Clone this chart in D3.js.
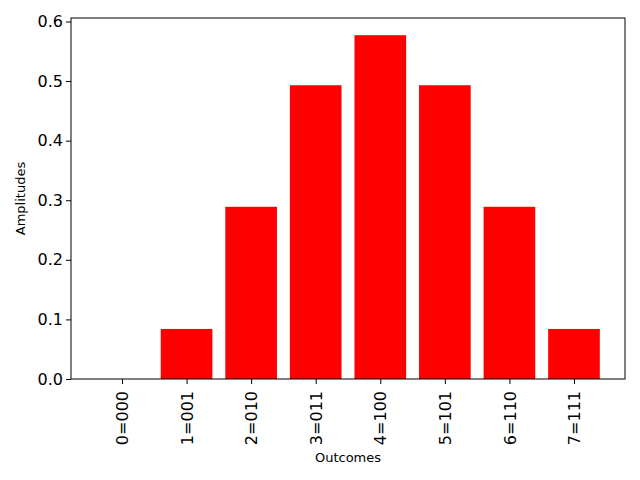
<!DOCTYPE html>
<html>
<head>
<meta charset="utf-8">
<script src="https://cdn.jsdelivr.net/npm/d3@7"></script>
<style>
  body { margin: 0; background: #fff; }
  text { font-family: "DejaVu Sans", sans-serif; fill: #000; }
</style>
</head>
<body>
<div id="chart"></div>
<script>
var outcomes = ["0=000", "1=001", "2=010", "3=011", "4=100", "5=101", "6=110", "7=111"];
var amplitudes = [0, 0.084, 0.289, 0.493, 0.577, 0.493, 0.289, 0.084];
var yTicks = [0.0, 0.1, 0.2, 0.3, 0.4, 0.5, 0.6];

var margin = {top: 18, right: 15, bottom: 101, left: 71};
var w = 640 - margin.left - margin.right;
var h = 480 - margin.top - margin.bottom;

var svg = d3.select("#chart")
  .append("svg")
    .attr("width", 640)
    .attr("height", 480)
  .append("g")
    .attr("transform", "translate(" + margin.left + "," + margin.top + ")");

// matplotlib style: bar width 0.8, 5% margins
var lo = -0.4, hi = outcomes.length - 1 + 0.4;
var pad = (hi - lo) * 0.05;
var x = d3.scaleLinear()
  .domain([lo - pad, hi + pad])
  .range([0, w]);

var ymax = d3.max(amplitudes) * 1.05;
var y = d3.scaleLinear()
  .domain([0, ymax])
  .range([h, 0]);

svg.selectAll("rect")
  .data(amplitudes)
  .enter()
  .append("rect")
  .attr("x", function(d, i) { return x(i - 0.4); })
  .attr("width", function(d, i) { return x(i + 0.4) - x(i - 0.4); })
  .attr("y", function(d) { return y(d); })
  .attr("height", function(d) { return h - y(d); })
  .attr("fill", "#ff0000");

var xAxis = d3.axisBottom(x)
  .tickValues(d3.range(outcomes.length))
  .tickFormat(function(d) { return outcomes[d]; })
  .tickSizeInner(5)
  .tickSizeOuter(0);

var yAxis = d3.axisLeft(y)
  .tickValues(yTicks)
  .tickFormat(d3.format(".1f"))
  .tickSizeInner(5)
  .tickSizeOuter(0);

var gx = svg.append("g")
  .attr("transform", "translate(0," + h + ")")
  .call(xAxis);
gx.select(".domain").remove();
gx.selectAll("text")
  .attr("font-size", 16)
  .attr("transform", "rotate(-90)")
  .attr("x", -12)
  .attr("y", 0)
  .attr("dy", "0.35em")
  .style("text-anchor", "end");

var gy = svg.append("g").call(yAxis);
gy.select(".domain").remove();
gy.selectAll("text")
  .attr("font-size", 16)
  .attr("x", -8);

// frame
svg.append("rect")
  .attr("width", w)
  .attr("height", h)
  .attr("fill", "none")
  .attr("stroke", "#000")
  .attr("stroke-width", 1);

svg.append("text")
  .attr("transform", "rotate(-90)")
  .attr("x", -h / 2)
  .attr("y", -margin.left + 25)
  .attr("font-size", 13)
  .style("text-anchor", "middle")
  .text("Amplitudes");

svg.append("text")
  .attr("x", w / 2)
  .attr("y", h + 83)
  .attr("font-size", 13)
  .style("text-anchor", "middle")
  .text("Outcomes");
</script>
</body>
</html>
